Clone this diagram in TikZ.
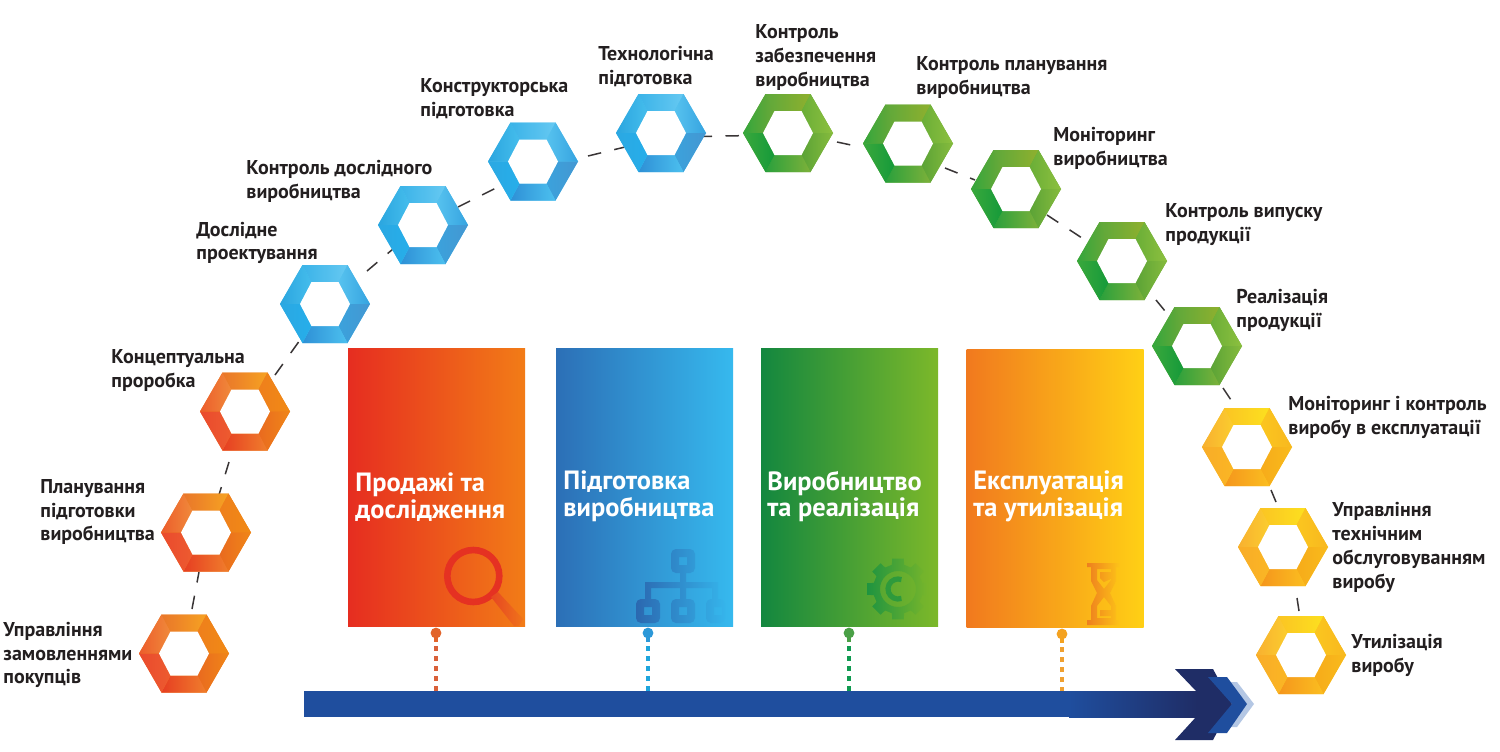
\documentclass[tikz,border=0pt]{standalone}
\usepackage{fontspec}
\setmainfont{PT Sans}
\usetikzlibrary{calc}
% palettes: or, bl, gr, ye; faces UL T UR LR B LL; a = left, b = right
\definecolor{orULa}{HTML}{EC5C2C}\definecolor{orULb}{HTML}{F08A3A}
\definecolor{orTa}{HTML}{E9762A}\definecolor{orTb}{HTML}{F6A322}
\definecolor{orURa}{HTML}{EF7F1C}\definecolor{orURb}{HTML}{F08A15}
\definecolor{orLRa}{HTML}{E96A1F}\definecolor{orLRb}{HTML}{F08618}
\definecolor{orBa}{HTML}{E63E22}\definecolor{orBb}{HTML}{F07E2C}
\definecolor{orLLa}{HTML}{EA4A2E}\definecolor{orLLb}{HTML}{ED5B2F}
\definecolor{blULa}{HTML}{2AA5DF}\definecolor{blULb}{HTML}{45BDEC}
\definecolor{blTa}{HTML}{3BB3E8}\definecolor{blTb}{HTML}{66C9F2}
\definecolor{blURa}{HTML}{57C3EF}\definecolor{blURb}{HTML}{35A3E0}
\definecolor{blLRa}{HTML}{3BA2DC}\definecolor{blLRb}{HTML}{4497D2}
\definecolor{blBa}{HTML}{2E90D6}\definecolor{blBb}{HTML}{4CC0EF}
\definecolor{blLLa}{HTML}{2BA8E2}\definecolor{blLLb}{HTML}{26AEEA}
\definecolor{grULa}{HTML}{33A63C}\definecolor{grULb}{HTML}{6BA838}
\definecolor{grTa}{HTML}{5EA83B}\definecolor{grTb}{HTML}{8FB02E}
\definecolor{grURa}{HTML}{6AAE37}\definecolor{grURb}{HTML}{8DC03F}
\definecolor{grLRa}{HTML}{5BA336}\definecolor{grLRb}{HTML}{86BB3D}
\definecolor{grBa}{HTML}{2AA03C}\definecolor{grBb}{HTML}{7DB13A}
\definecolor{grLLa}{HTML}{3AA83C}\definecolor{grLLb}{HTML}{159A3A}
\definecolor{yeULa}{HTML}{F8B030}\definecolor{yeULb}{HTML}{FBCD2E}
\definecolor{yeTa}{HTML}{FBC523}\definecolor{yeTb}{HTML}{FCE01F}
\definecolor{yeURa}{HTML}{FBC61F}\definecolor{yeURb}{HTML}{F8B81F}
\definecolor{yeLRa}{HTML}{F7AB1A}\definecolor{yeLRb}{HTML}{F8BB1C}
\definecolor{yeBa}{HTML}{F5961C}\definecolor{yeBb}{HTML}{FBBE20}
\definecolor{yeLLa}{HTML}{F9AC28}\definecolor{yeLLb}{HTML}{FAB624}
\definecolor{inkc}{HTML}{231F20}
\definecolor{cardAa}{HTML}{E62D20}\definecolor{cardAb}{HTML}{F27C17}
\definecolor{cardBa}{HTML}{2C6FB6}\definecolor{cardBb}{HTML}{36B9EE}
\definecolor{cardCa}{HTML}{13873F}\definecolor{cardCb}{HTML}{7CB82A}
\definecolor{cardDa}{HTML}{F1791E}\definecolor{cardDb}{HTML}{FFD015}
\definecolor{lensc}{HTML}{E53122}\definecolor{handa}{HTML}{E64622}\definecolor{handb}{HTML}{F0741A}
\definecolor{neta}{HTML}{2B68B0}\definecolor{netm}{HTML}{2F84C8}\definecolor{netb}{HTML}{35B4EB}
\definecolor{geara}{HTML}{1F9440}\definecolor{gearm}{HTML}{4AA336}\definecolor{gearb}{HTML}{78B62B}\definecolor{gearc}{HTML}{2E9A3C}
\definecolor{glassa}{HTML}{EE7F1E}\definecolor{glassm}{HTML}{F6A01E}\definecolor{glassb}{HTML}{FDC418}
\definecolor{arrlight}{HTML}{B4C7E4}\definecolor{arrmid}{HTML}{1F4E9E}\definecolor{arrdark}{HTML}{1F2D66}
\definecolor{pinA}{HTML}{E2642A}\definecolor{pinB}{HTML}{2C98D8}\definecolor{pinC}{HTML}{4AA046}\definecolor{pinD}{HTML}{F4A220}
\definecolor{dropA}{HTML}{D9613A}\definecolor{dropB}{HTML}{1FA5DC}\definecolor{dropC}{HTML}{109A50}\definecolor{dropD}{HTML}{F0A030}
\newcommand{\hexring}[2]{%
 \begin{scope}[shift={(#1.center)}]
 \fill[#2URa] (-22.5,-39) -- (22.5,-39) -- (45,0) -- (22.5,39) -- (-22.5,39) -- (-45,0) -- cycle;
 \shade[left color=#2ULa,right color=#2ULb] (-45,0) -- (-22.5,-39) -- (-13.5,-22) -- (-25,0) -- cycle;
 \shade[left color=#2Ta,right color=#2Tb] (-22.5,-39) -- (22.5,-39) -- (13.5,-22) -- (-13.5,-22) -- cycle;
 \shade[left color=#2URa,right color=#2URb] (22.5,-39) -- (45,0) -- (25,0) -- (13.5,-22) -- cycle;
 \shade[left color=#2LRa,right color=#2LRb] (45,0) -- (22.5,39) -- (13.5,22) -- (25,0) -- cycle;
 \shade[left color=#2Ba,right color=#2Bb] (22.5,39) -- (-22.5,39) -- (-13.5,22) -- (13.5,22) -- cycle;
 \shade[left color=#2LLa,right color=#2LLb] (-22.5,39) -- (-45,0) -- (-25,0) -- (-13.5,22) -- cycle;
 \fill[white] (-13.5,-22) -- (13.5,-22) -- (25,0) -- (13.5,22) -- (-13.5,22) -- (-25,0) -- cycle;
 \end{scope}}
\tikzset{
 hexslot/.style={inner sep=0pt,minimum size=0pt},
 link/.style={draw=inkc!90,line width=0.75pt,dash pattern=on 6.75pt off 6.75pt},
 lab/.style={inner sep=0pt,anchor=west,align=left,text=inkc,font=\fontsize{10}{11.9}\selectfont\bfseries},
 card/.style={inner sep=0pt,minimum width=88.5pt,minimum height=139pt},
 cardtxt/.style={inner sep=0pt,anchor=west,align=left,text=white,font=\fontsize{13.2}{13.4}\selectfont\bfseries},
 pin/.style={circle,inner sep=0pt,minimum size=5.4pt},
 stem/.style={line width=1.7pt},
 drop/.style={line width=1.7pt,dash pattern=on 2.5pt off 2.5pt,dash phase=3.5pt},
}
\begin{document}
\begin{tikzpicture}[x=0.5pt,y=-0.5pt]
\useasboundingbox (0,0) rectangle (1500,751);
\fill[white] (0,0) rectangle (1500,751);
% hexagon anchors
\node[hexslot] (h1) at (184,653.5) {};
\node[hexslot] (h2) at (206,532.5) {};
\node[hexslot] (h3) at (245,411.5) {};
\node[hexslot] (h4) at (325,304) {};
\node[hexslot] (h5) at (423,225) {};
\node[hexslot] (h6) at (533,161.5) {};
\node[hexslot] (h7) at (661,133) {};
\node[hexslot] (h8) at (788,133) {};
\node[hexslot] (h9) at (908,143.5) {};
\node[hexslot] (h10) at (1016,189) {};
\node[hexslot] (h11) at (1122,261) {};
\node[hexslot] (h12) at (1197,346) {};
\node[hexslot] (h13) at (1247,447) {};
\node[hexslot] (h14) at (1283,547) {};
\node[hexslot] (h15) at (1301,655) {};
% connectors
\draw[link] ([shift={(8,-44.5)}]h1.center) -- ([shift={(-7,39.5)}]h2.center);
\draw[link] ([shift={(11.4,-32.5)}]h2.center) -- ([shift={(-16,50.5)}]h3.center);
\draw[link] ([shift={(30,-36.5)}]h3.center) -- ([shift={(-25,36)}]h4.center);
\draw[link] ([shift={(42,-33)}]h4.center) -- ([shift={(-30,24)}]h5.center);
\draw[link] ([shift={(35,-18)}]h5.center) -- ([shift={(-37,26.5)}]h6.center);
\draw[link] ([shift={(55,-5.5)}]h6.center) -- ([shift={(-36,14)}]h7.center);
\draw[link] ([shift={(37.5,3.5)}]h7.center) -- ([shift={(-48,2.7)}]h8.center);
\draw[link] ([shift={(49,9)}]h8.center) -- ([shift={(-57,1.5)}]h9.center);
\draw[link] ([shift={(37,24.5)}]h9.center) -- ([shift={(-41,-9)}]h10.center);
\draw[link] ([shift={(31,26)}]h10.center) -- ([shift={(-40,-23)}]h11.center);
\draw[link] ([shift={(34,39)}]h11.center) -- ([shift={(-32,-35)}]h12.center);
\draw[link] ([shift={(26,42)}]h12.center) -- ([shift={(-16,-47)}]h13.center);
\draw[link] ([shift={(24,43)}]h13.center) -- ([shift={(-7,-45)}]h14.center);
\draw[link] ([shift={(14,51)}]h14.center) -- ([shift={(-2,-44)}]h15.center);
% hexagons
\hexring{h1}{or}\hexring{h2}{or}\hexring{h3}{or}
\hexring{h4}{bl}\hexring{h5}{bl}\hexring{h6}{bl}\hexring{h7}{bl}
\hexring{h8}{gr}\hexring{h9}{gr}\hexring{h10}{gr}\hexring{h11}{gr}\hexring{h12}{gr}
\hexring{h13}{ye}\hexring{h14}{ye}\hexring{h15}{ye}
% labels
\node[lab] (l1) at (3,655) {Управління\\замовленнями\\покупців};
\node[lab] (l2) at (40,512) {Планування\\підготовки\\виробництва};
\node[lab] (l3) at (111,370.5) {Концептуальна\\проробка};
\node[lab] (l4) at (196,243) {Дослідне\\проектування};
\node[lab] (l5) at (246,181) {Контроль дослідного\\виробництва};
\node[lab] (l6) at (420,99) {Конструкторська\\підготовка};
\node[lab] (l7) at (598,66.5) {Технологічна\\підготовка};
\node[lab] (l8) at (755,57.5) {Контроль\\забезпечення\\виробництва};
\node[lab] (l9) at (916,77.5) {Контроль планування\\виробництва};
\node[lab] (l10) at (1053,148.5) {Моніторинг\\виробництва};
\node[lab] (l11) at (1165,224.5) {Контроль випуску\\продукції};
\node[lab] (l12) at (1236,310.5) {Реалізація\\продукції};
\node[lab] (l13) at (1288,417.5) {Моніторинг і контроль\\виробу в експлуатації};
\node[lab] (l14) at (1332,547.5) {Управління\\технічним\\обслуговуванням\\виробу};
\node[lab] (l15) at (1351,655.5) {Утилізація\\виробу};
% cards
\node[card,left color=cardAa,right color=cardAb] (c1) at (436.5,487) {};
\node[card,left color=cardBa,right color=cardBb] (c2) at (644.5,487) {};
\node[card,left color=cardCa,right color=cardCb] (c3) at (849.5,487.5) {};
\node[card,left color=cardDa,right color=cardDb] (c4) at (1055,488) {};
% card icons
\draw[line width=3.3pt,color=lensc] (473.3,576) circle[radius=26];
\shade[left color=handa,right color=handb] (491,597) -- (498,592) -- (523,619) -- (519,626) -- (514,626) -- cycle;
\shade[left color=neta,middle color=netm,right color=netb,nonzero rule,rounded corners=2.5pt]
 (671,549) rectangle (695,573) [sharp corners] (679,565) rectangle (687,557)
 [rounded corners=2.5pt] (636,599) rectangle (660,623) [sharp corners] (644,615) rectangle (652,607)
 [rounded corners=2.5pt] (671,599) rectangle (695,623) [sharp corners] (679,615) rectangle (687,607)
 [rounded corners=2.5pt] (706,599) rectangle (725,623) [sharp corners] (714,615) rectangle (722,607)
 (680,570) rectangle (686,601)
 (645,582) rectangle (715,588)
 (645,582) rectangle (651,601)
 (712,582) rectangle (718,601);
\shade[even odd rule,left color=geara,middle color=gearm,right color=gearb]
 ([shift={(898,589)}]-14:25)
 \foreach \a in {0,45,...,315}{ -- ([shift={(898,589)}]\a-11:31) -- ([shift={(898,589)}]\a+11:31) -- ([shift={(898,589)}]\a+14:25) -- ([shift={(898,589)}]\a+31:25) } -- cycle
 (898,589) circle[radius=18];
\draw[line width=2.6pt,color=gearc] ([shift={(898,589)}]70:10) arc[start angle=70,end angle=290,radius=10];
\shade[even odd rule,left color=glassa,middle color=glassm,right color=glassb]
 (1087,563) rectangle (1120,567)
 (1087,620) rectangle (1120,625)
 (1091,567) -- (1116,567) -- (1116,581) -- (1110,593) -- (1116,606) -- (1116,620) -- (1091,620) -- (1091,606) -- (1097,593) -- (1091,581) -- cycle
 (1097,569) -- (1111,569) -- (1111,580) -- (1104,589) -- (1097,580) -- cycle
 (1104,597) -- (1111,606) -- (1111,618) -- (1097,618) -- (1097,606) -- cycle
 (1100,572) -- (1111,572) -- (1111,579) -- (1104,582) -- (1100,578) -- cycle
 (1100,610) -- (1111,610) -- (1111,616) -- (1100,616) -- cycle;
% card titles
\node[cardtxt] (t1) at (355,497.5) {Продажі та\\дослідження};
\node[cardtxt] (t2) at (563,496.5) {Підготовка\\виробництва};
\node[cardtxt] (t3) at (767,496.5) {Виробництво\\та реалізація};
\node[cardtxt] (t4) at (973,496.5) {Експлуатація\\та утилізація};
% big arrow
\fill[arrlight] (1227,682) -- (1237,682) -- (1254,704) -- (1237,727) -- (1227,727) -- (1247,704) -- cycle;
\fill[arrmid] (304,691) rectangle (1070,717);
\shade[left color=arrmid,right color=arrdark] (1069,691) rectangle (1197,717);
\fill[arrdark] (1175,669) -- (1213,669) -- (1232,704) -- (1213,740) -- (1175,740) -- (1196,717) -- (1196,691) -- cycle;
\fill[arrmid] (1208,677) -- (1227,677) -- (1247,704) -- (1227,733) -- (1208,733) -- (1232,704) -- cycle;
\coordinate (b1) at (436,691);
\coordinate (b2) at (648,691);
\coordinate (b3) at (849,691);
\coordinate (b4) at (1062,691);
% pins and dotted drops
\node[pin,fill=pinA] (p1) at (436,633) {};
\node[pin,fill=pinB] (p2) at (648,633) {};
\node[pin,fill=pinC] (p3) at (849,633) {};
\node[pin,fill=pinD] (p4) at (1062,634) {};
\draw[drop,dropA] (p1.center) -- (b1);
\draw[drop,dropB] (p2.center) -- (b2);
\draw[drop,dropC] (p3.center) -- (b3);
\draw[drop,dropD] (p4.center) -- (b4);
\draw[stem,pinA] (p1.center) -- ([yshift=-4.5pt]p1.center);
\draw[stem,pinB] (p2.center) -- ([yshift=-4.5pt]p2.center);
\draw[stem,pinC] (p3.center) -- ([yshift=-4.5pt]p3.center);
\draw[stem,pinD] (p4.center) -- ([yshift=-4.5pt]p4.center);
\end{tikzpicture}
\end{document}
